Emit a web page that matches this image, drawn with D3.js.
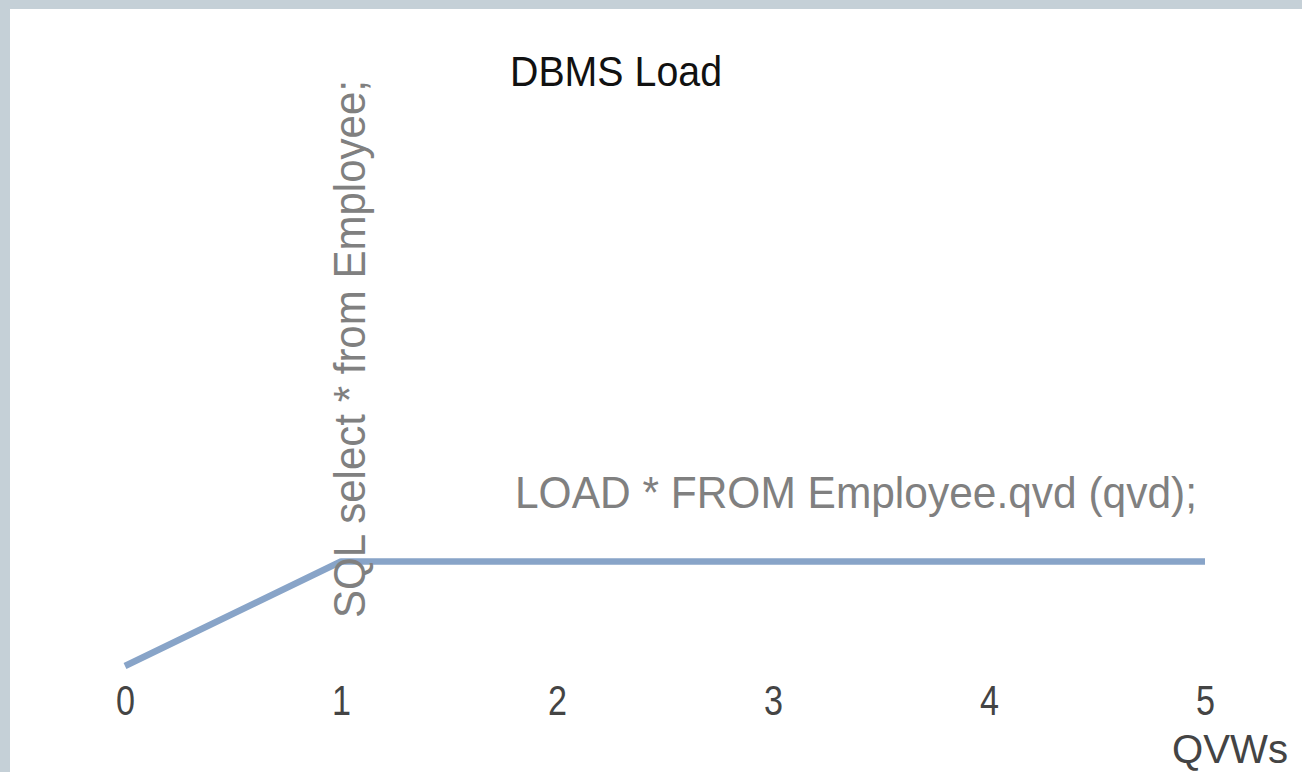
<!DOCTYPE html>
<html><head><meta charset="utf-8">
<script src="https://cdn.jsdelivr.net/npm/d3@7"></script>
<style>html,body{margin:0;padding:0;background:#c5d0d7;overflow:hidden}</style>
</head><body>
<svg id="c" width="1302" height="772"></svg>
<script>
const xValues = [0, 1, 5];
const yValues = [0, 1, 1];
const xTicks = [0, 1, 2, 3, 4, 5];
const title = "DBMS Load";
const xAxisLabel = "QVWs";
const annotationSQL = "SQL select * from Employee;";
const annotationQVD = "LOAD * FROM Employee.qvd (qvd);";

const svg = d3.select("#c");
svg.append("rect").attr("x",10).attr("y",9).attr("width",1292).attr("height",763).attr("fill","#fff");

const x = d3.scaleLinear().domain([0,5]).range([125,1205]);
const y = d3.scaleLinear().domain([0,1]).range([666,561.5]);

const font = "'Liberation Sans', Arial, sans-serif";

// title
svg.append("text").attr("x",510).attr("y",86).attr("font-family",font).attr("font-size",43)
  .attr("fill","#111").attr("textLength",212).attr("lengthAdjust","spacingAndGlyphs").text(title);

// line
const pts = xValues.map((v,i)=>[v,yValues[i]]);
svg.append("path").datum(pts)
  .attr("d", d3.line().x(d=>x(d[0])).y(d=>y(d[1])))
  .attr("fill","none").attr("stroke","#88a4c8").attr("stroke-width",6.5).attr("stroke-linejoin","round");

// axis (no domain line)
const ax = svg.append("g").attr("transform","translate(0,715)")
  .call(d3.axisBottom(x).tickValues(xTicks).tickSize(0).tickPadding(0).tickFormat(d3.format("d")));
ax.select(".domain").remove();
ax.selectAll(".tick text").attr("font-family",font).attr("font-size",42).attr("fill","#444")
  .attr("dy",0).attr("textLength",19).attr("lengthAdjust","spacingAndGlyphs");

svg.append("text").attr("x",1172).attr("y",763).attr("font-family",font).attr("font-size",41)
  .attr("fill","#444").attr("textLength",116).attr("lengthAdjust","spacingAndGlyphs").text(xAxisLabel);

// annotations
svg.append("text").attr("transform",`translate(365,618) rotate(-90)`)
  .attr("font-family",font).attr("font-size",44).attr("fill","#808080")
  .attr("textLength",538).attr("lengthAdjust","spacingAndGlyphs").text(annotationSQL);

svg.append("text").attr("x",515).attr("y",508).attr("font-family",font).attr("font-size",44)
  .attr("fill","#808080").attr("textLength",682).attr("lengthAdjust","spacingAndGlyphs").text(annotationQVD);
</script>
</body></html>
